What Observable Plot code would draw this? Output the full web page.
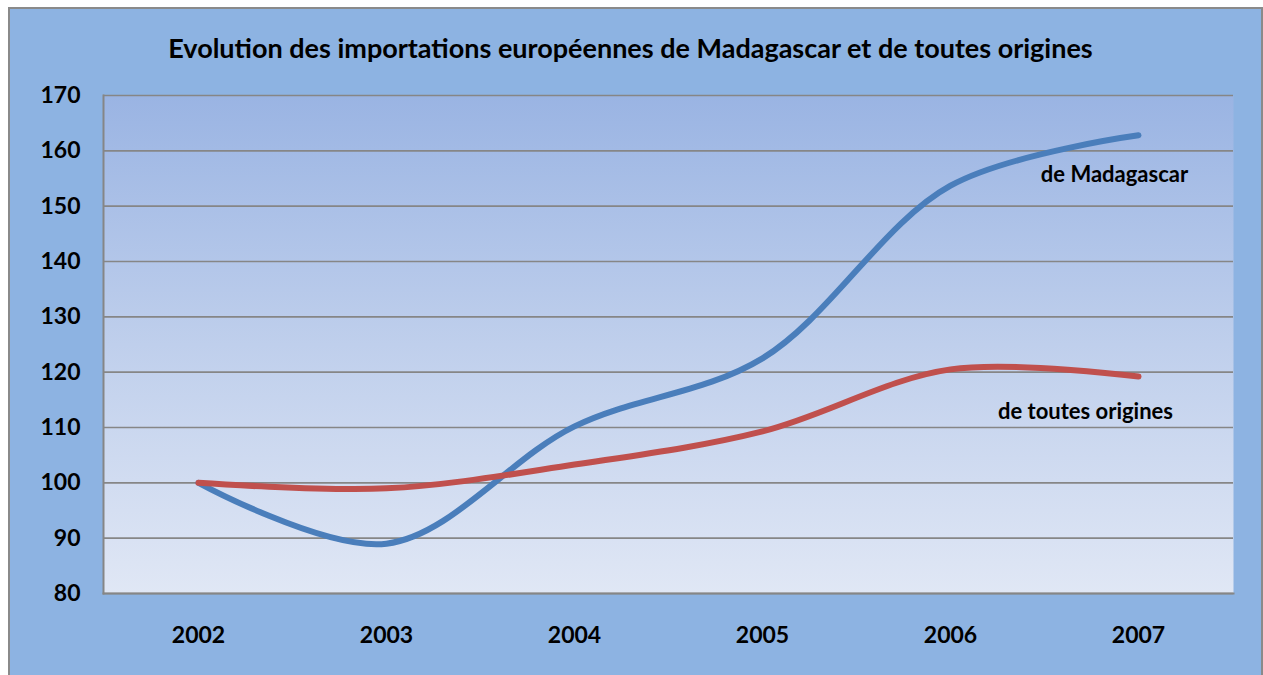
<!DOCTYPE html>
<html>
<head>
<meta charset="utf-8">
<script src="https://cdn.jsdelivr.net/npm/d3@7"></script>
<script src="https://cdn.jsdelivr.net/npm/@observablehq/plot@0.6"></script>
<style>
  html, body { margin: 0; padding: 0; background: #fff; }
  #box {
    position: absolute; left: 8px; top: 7px;
    width: 1251px; height: 672px;
    background: #8DB3E2; border: 2px solid #8a8a8a;
    font-family: Lato, "Liberation Sans", sans-serif;
  }
  #title {
    padding-top: 24px; height: 30px; line-height: 30px;
    text-align: center; font-weight: bold; font-size: 27px; color: #000;
    padding-right: 10px;
  }
  #chart svg { display: block; overflow: visible; }
</style>
</head>
<body>
<div id="box">
  <div id="title">Evolution des importations européennes de Madagascar et de toutes origines</div>
  <div id="chart"></div>
</div>
<script>
const years = ["2002", "2003", "2004", "2005", "2006", "2007"];
const madagascar = [100, 89, 110.2, 122.5, 153.7, 162.8];
const toutesOrigines = [100, 99, 103.3, 109.3, 120.5, 119.2];
const seriesNames = ["de Madagascar", "de toutes origines"];
const seriesColors = ["#4A7EBB", "#C0504D"];
const yTicks = [80, 90, 100, 110, 120, 130, 140, 150, 160, 170];

const rows = [];
[madagascar, toutesOrigines].forEach((vals, s) => {
  years.forEach((y, i) => rows.push({ year: y, value: vals[i], series: seriesNames[s] }));
});
const lastRows = rows.filter(d => d.year === years[years.length - 1]);

const plot = Plot.plot({
  width: 1249,
  height: 612,
  marginLeft: 93,
  marginRight: 26,
  marginTop: 32,
  marginBottom: 82,
  style: { fontFamily: "Lato, 'Liberation Sans', sans-serif", background: "transparent", color: "#000" },
  x: { type: "point", domain: years, padding: 0.5, label: null },
  y: { domain: [80, 170], ticks: yTicks, label: null },
  color: { domain: seriesNames, range: seriesColors },
  marks: [
    Plot.frame({ fill: "url(#plotGrad)", stroke: null }),
    Plot.gridY(yTicks, { stroke: "#868686", strokeOpacity: 1, strokeWidth: 1.6 }),
    Plot.frame({ anchor: "left", stroke: "#868686", strokeWidth: 2 }),
    Plot.frame({ anchor: "bottom", stroke: "#868686", strokeWidth: 2 }),
    Plot.axisY(yTicks, { tickSize: 0, tickPadding: 23, fontSize: 23, fontWeight: "bold", label: null }),
    Plot.axisX(years, { tickSize: 0, tickPadding: 33, fontSize: 23, fontWeight: "bold", label: null }),
    Plot.line(rows, {
      x: "year", y: "value", z: "series", stroke: "series",
      strokeWidth: 6, curve: "catmull-rom", strokeLinecap: "round", strokeLinejoin: "round"
    }),
    Plot.text(lastRows.filter(d => d.series === seriesNames[0]), {
      x: "year", y: "value", text: "series", dx: -24, dy: 40,
      fontSize: 22, fontWeight: "bold", fill: "#000"
    }),
    Plot.text(lastRows.filter(d => d.series === seriesNames[1]), {
      x: "year", y: "value", text: "series", dx: -53, dy: 35,
      fontSize: 22, fontWeight: "bold", fill: "#000"
    })
  ]
});

const defs = d3.select(plot).insert("defs", ":first-child");
const grad = defs.append("linearGradient").attr("id", "plotGrad")
  .attr("x1", 0).attr("y1", 0).attr("x2", 0).attr("y2", 1);
grad.append("stop").attr("offset", "0%").attr("stop-color", "#9AB4E3");
grad.append("stop").attr("offset", "50%").attr("stop-color", "#BFCFEC");
grad.append("stop").attr("offset", "100%").attr("stop-color", "#E0E7F5");

document.getElementById("chart").appendChild(plot);
</script>
</body>
</html>
